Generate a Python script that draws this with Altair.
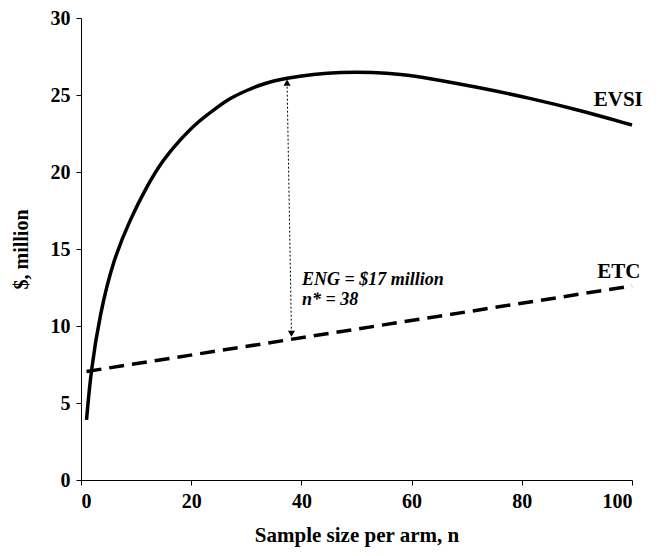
import altair as alt
import pandas as pd

# EVSI curve
evsi_n = [1, 1.8, 3.45, 5.87, 8.9, 11.9, 14.9, 18, 21, 24, 27, 30.1, 33.1, 37.3, 42.2, 47, 53, 58, 63, 72, 81.5, 90.6, 100]
evsi_v = [3.9, 7.1, 10.8, 14.3, 16.9, 19.05, 20.8, 22.1, 23.2, 24.0, 24.8, 25.3, 25.75, 26.1, 26.35, 26.48, 26.48, 26.35, 26.1, 25.5, 24.8, 24.0, 23.05]

# ETC line
etc_n = [1, 100]
etc_v = [7.05, 12.6]

# arrow at optimum
arrow_n = [37.4, 38.2]
arrow_v = [25.8, 9.5]

# labels
label_text = ["EVSI", "ETC"]
label_n = [97.5, 97.6]
label_v = [24.7, 13.5]

note_text = ["ENG = $17 million", "n* = 38"]
note_n = [40.1, 40.1]
note_v = [13.0, 11.7]

FONT = "'Liberation Serif', 'Times New Roman', Times, serif"

evsi_df = pd.DataFrame({"n": evsi_n, "v": evsi_v})
etc_df = pd.DataFrame({"n": etc_n, "v": etc_v})
arrow_df = pd.DataFrame({"n": [arrow_n[0]], "v": [arrow_v[0]], "n2": [arrow_n[1]], "v2": [arrow_v[1]]})
head_df = pd.DataFrame({"n": arrow_n, "v": arrow_v, "shape": ["triangle-up", "triangle-down"]})
lab_df = pd.DataFrame({"n": label_n, "v": label_v, "t": label_text})
note_df = pd.DataFrame({"n": note_n, "v": note_v, "t": note_text})

xs = alt.Scale(domain=[0, 100], nice=False)
ys = alt.Scale(domain=[0, 30], nice=False)

xax = alt.Axis(values=[0, 20, 40, 60, 80, 100], title="Sample size per arm, n", grid=False,
               tickSize=5, labelPadding=6, labelFontSize=20, labelFont=FONT, labelFontWeight="bold",
               labelColor="black", domainColor="black", tickColor="black",
               titleFont=FONT, titleFontSize=21, titleFontWeight="bold", titleColor="black",
               titleX=275.5, titleY=55, titleBaseline="middle", titleAnchor="middle")
yax = alt.Axis(values=[0, 5, 10, 15, 20, 25, 30], title="$, million", grid=False,
               tickSize=5, labelPadding=6, labelFontSize=20, labelFont=FONT, labelFontWeight="bold",
               labelColor="black", domainColor="black", tickColor="black",
               titleFont=FONT, titleFontSize=20, titleFontWeight="bold", titleColor="black",
               titleX=-60, titleY=231, titleAngle=270, titleAlign="center", titleBaseline="middle")

evsi = alt.Chart(evsi_df).mark_line(color="black", strokeWidth=3.5, interpolate="basis").encode(
    x=alt.X("n:Q", scale=xs, axis=xax),
    y=alt.Y("v:Q", scale=ys, axis=yax),
)
etc = alt.Chart(etc_df).mark_line(color="black", strokeWidth=3.5, strokeDash=[15, 8]).encode(
    x=alt.X("n:Q", scale=xs), y=alt.Y("v:Q", scale=ys)
)
arrow = alt.Chart(arrow_df).mark_rule(color="black", strokeWidth=1, strokeDash=[2, 2]).encode(
    x=alt.X("n:Q", scale=xs), y=alt.Y("v:Q", scale=ys), x2="n2:Q", y2="v2:Q"
)
heads = alt.Chart(head_df).mark_point(filled=True, color="black", size=50, opacity=1).encode(
    x=alt.X("n:Q", scale=xs), y=alt.Y("v:Q", scale=ys),
    shape=alt.Shape("shape:N", scale=None),
)
labs = alt.Chart(lab_df).mark_text(font=FONT, fontSize=21, fontWeight="bold", color="black",
                                   align="center", baseline="middle").encode(
    x=alt.X("n:Q", scale=xs), y=alt.Y("v:Q", scale=ys), text="t:N"
)
notes = alt.Chart(note_df).mark_text(font=FONT, fontSize=18, fontWeight="bold", fontStyle="italic",
                                     color="black", align="left", baseline="middle").encode(
    x=alt.X("n:Q", scale=xs), y=alt.Y("v:Q", scale=ys), text="t:N"
)

chart = alt.layer(evsi, etc, arrow, heads, labs, notes).properties(
    width=551, height=462,
    autosize=alt.AutoSizeParams(type="none"),
    padding={"left": 73, "top": 10, "right": 22, "bottom": 68},
    background="white",
).configure_view(stroke=None)

chart.save("out.html", embed_options={"renderer": "svg", "actions": False})
